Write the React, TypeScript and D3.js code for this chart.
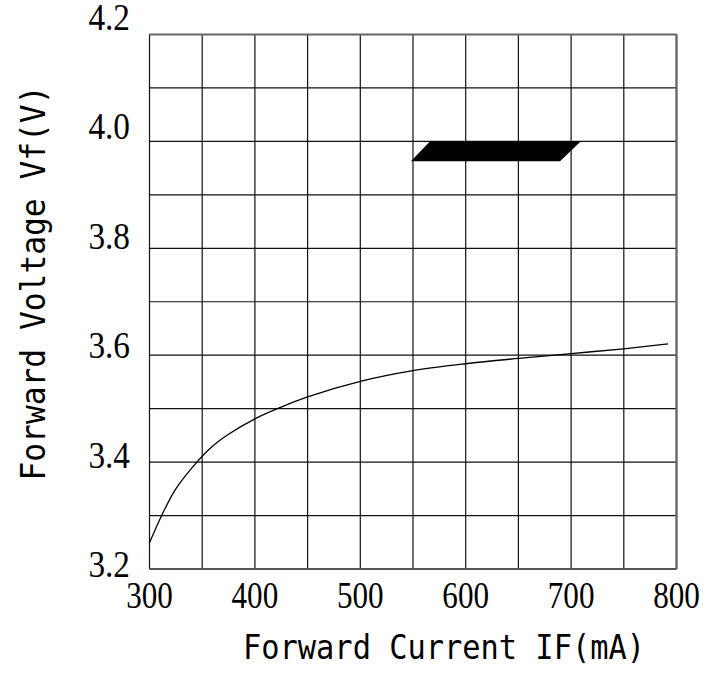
import React from "react";
import * as d3 from "d3";

const currentTicks = [300, 400, 500, 600, 700, 800];
const voltageTicks = [3.2, 3.4, 3.6, 3.8, 4.0, 4.2];
const gridX = [300, 350, 400, 450, 500, 550, 600, 650, 700, 750, 800];
const gridY = [3.2, 3.3, 3.4, 3.5, 3.6, 3.7, 3.8, 3.9, 4.0, 4.1, 4.2];

const curveCurrent = [300, 312, 325, 345, 360, 375, 400, 425, 450, 500, 550, 600, 650, 700, 750, 792];
const curveVoltage = [3.249, 3.302, 3.35, 3.4, 3.43, 3.452, 3.481, 3.503, 3.522, 3.551, 3.571, 3.584, 3.594, 3.603, 3.612, 3.621];

const bandCurrent = [566, 709, 689.5, 548];
const bandVoltage = [4.0, 4.0, 3.963, 3.963];

const W = 709;
const H = 674;

export default function App() {
  const x = d3.scaleLinear().domain([300, 800]).range([149.5, 676.5]);
  const y = d3.scaleLinear().domain([3.2, 4.2]).range([569, 34.5]);
  const yLab = d3.scaleLinear().domain([3.2, 4.2]).range([577, 29.5]);

  const pts: [number, number][] = curveCurrent.map((c, i) => [c, curveVoltage[i]]);
  const line = d3
    .line<[number, number]>()
    .x((d) => x(d[0]))
    .y((d) => y(d[1]))
    .curve(d3.curveCatmullRom.alpha(0.5));

  const band = bandCurrent.map((c, i) => `${x(c)},${y(bandVoltage[i])}`).join(" ");

  return (
    <svg
      width={W}
      height={H}
      style={{ position: "absolute", left: 0, top: 0, background: "#fff" }}
    >
      <rect x={0} y={0} width={W} height={H} fill="#fff" />
      {gridX.map((g) => (
        <line key={"gx" + g} x1={x(g)} x2={x(g)} y1={y(3.2)} y2={y(4.2)} stroke="#111" strokeWidth={1.2} />
      ))}
      {gridY.map((g) => (
        <line key={"gy" + g} x1={x(300)} x2={x(800)} y1={y(g)} y2={y(g)} stroke="#111" strokeWidth={1.2} />
      ))}
      <line x1={x(800)} x2={x(800)} y1={y(3.2)} y2={y(4.2)} stroke="#666" strokeWidth={2.2} />
      <line x1={x(300)} x2={x(800)} y1={y(4.2)} y2={y(4.2)} stroke="#666" strokeWidth={1.8} />
      <line x1={x(300)} x2={x(800)} y1={y(3.2)} y2={y(3.2)} stroke="#555" strokeWidth={1.8} />
      <polygon points={band} fill="#000" />
      <path d={line(pts) || ""} fill="none" stroke="#000" strokeWidth={1.3} />
      {currentTicks.map((t) => (
        <text
          key={"xt" + t}
          transform={`translate(${x(t)},608) scale(0.82,1)`}
          textAnchor="middle"
          fontFamily="'Liberation Serif', 'Times New Roman', serif"
          fontSize={38}
          fill="#000"
        >
          {t}
        </text>
      ))}
      {voltageTicks.map((t) => (
        <text
          key={"yt" + t}
          transform={`translate(130,${yLab(t)}) scale(0.9,1)`}
          textAnchor="end"
          fontFamily="'Liberation Serif', 'Times New Roman', serif"
          fontSize={37}
          fill="#000"
        >
          {t.toFixed(1)}
        </text>
      ))}
      <text
        x={444}
        y={659}
        textAnchor="middle"
        fontFamily="'DejaVu Sans Mono', monospace"
        fontSize={34}
        textLength={402}
        lengthAdjust="spacingAndGlyphs"
        fill="#000"
      >
        Forward Current IF(mA)
      </text>
      <g transform="translate(45,283) rotate(-90)">
        <text
          x={0}
          y={0}
          textAnchor="middle"
          fontFamily="'DejaVu Sans Mono', monospace"
          fontSize={34}
          textLength={395}
          lengthAdjust="spacingAndGlyphs"
          fill="#000"
        >
          Forward Voltage Vf(V)
        </text>
      </g>
    </svg>
  );
}
